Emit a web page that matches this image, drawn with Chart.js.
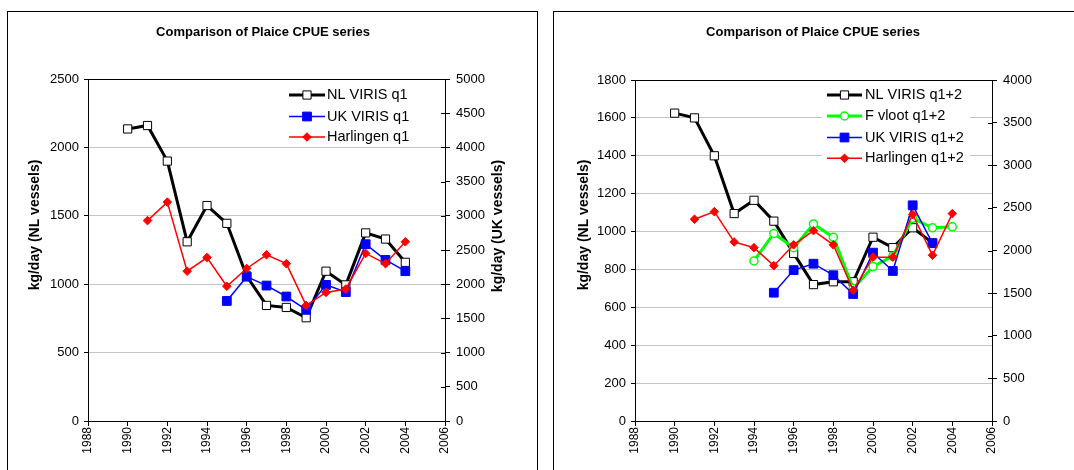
<!DOCTYPE html>
<html>
<head>
<meta charset="utf-8">
<script src="https://cdn.jsdelivr.net/npm/chart.js@4.4.0/dist/chart.umd.min.js"></script>
<style>
  html, body { margin: 0; padding: 0; background: #fff; overflow: hidden; }
  body { width: 1074px; height: 470px; position: relative; }
  .panel { position: absolute; border: 1px solid #000; background: #fff; }
  #leftPanel { left: 7px; top: 11px; width: 529px; height: 480px; }
  #rightPanel { left: 553px; top: 11px; width: 540px; height: 480px; }
  canvas { position: absolute; left: 0; top: 0; }
</style>
</head>
<body>
<div class="panel" id="leftPanel"><canvas id="q1Chart" width="528" height="459"></canvas></div>
<div class="panel" id="rightPanel"><canvas id="q12Chart" width="530" height="459"></canvas></div>
<script>
// x axis years
const yearTicks = [1988, 1990, 1992, 1994, 1996, 1998, 2000, 2002, 2004, 2006];

// quarter 1 series
const nlQ1Years = [1990, 1991, 1992, 1993, 1994, 1995, 1996, 1997, 1998, 1999, 2000, 2001, 2002, 2003, 2004];
const nlQ1 = [2135, 2160, 1900, 1310, 1575, 1445, 1060, 845, 830, 755, 1095, 995, 1375, 1330, 1160];
const ukQ1Years = [1995, 1996, 1997, 1998, 1999, 2000, 2001, 2002, 2003, 2004];
const ukQ1 = [1755, 2110, 1980, 1820, 1625, 1990, 1885, 2585, 2355, 2190];
const harQ1Years = [1991, 1992, 1993, 1994, 1995, 1996, 1997, 1998, 1999, 2000, 2001, 2002, 2003, 2004];
const harQ1 = [1465, 1600, 1095, 1195, 985, 1115, 1215, 1150, 845, 940, 965, 1225, 1150, 1310];

// quarter 1+2 series
const nlQ12Years = [1990, 1991, 1992, 1993, 1994, 1995, 1996, 1997, 1998, 1999, 2000, 2001, 2002, 2003];
const nlQ12 = [1625, 1600, 1400, 1095, 1165, 1055, 885, 720, 735, 735, 970, 915, 1020, 940];
const fvQ12Years = [1994, 1995, 1996, 1997, 1998, 1999, 2000, 2001, 2002, 2003, 2004];
const fvQ12 = [845, 990, 915, 1040, 970, 700, 815, 870, 1070, 1020, 1025];
const ukQ12Years = [1995, 1996, 1997, 1998, 1999, 2000, 2001, 2002, 2003];
const ukQ12 = [1505, 1770, 1845, 1710, 1490, 1975, 1760, 2530, 2085];
const harQ12Years = [1991, 1992, 1993, 1994, 1995, 1996, 1997, 1998, 1999, 2000, 2001, 2002, 2003, 2004];
const harQ12 = [1065, 1105, 945, 915, 820, 930, 1005, 930, 690, 865, 865, 1090, 875, 1095];

const FONT = "'Liberation Sans', Arial, sans-serif";
Chart.defaults.font.family = FONT;
Chart.defaults.color = '#000';

function points(years, values) {
    return years.map((yr, i) => ({ x: yr, y: values[i] }));
}

const styles = {
    nl: { borderColor: '#000000', borderWidth: 3, pointStyle: 'rect', pointRadius: 5.8,
          pointBackgroundColor: '#ffffff', pointBorderColor: '#000000', pointBorderWidth: 1 },
    fv: { borderColor: '#00ff00', borderWidth: 3, pointStyle: 'circle', pointRadius: 4,
          pointBackgroundColor: '#ffffff', pointBorderColor: '#00ff00', pointBorderWidth: 1.5 },
    uk: { borderColor: '#0000ff', borderWidth: 1.5, pointStyle: 'rect', pointRadius: 6.2,
          pointBackgroundColor: '#0000ff', pointBorderColor: '#0000ff', pointBorderWidth: 1 },
    har: { borderColor: '#ff0000', borderWidth: 1.5, pointStyle: 'rectRot', pointRadius: 4.3,
           pointBackgroundColor: '#ff0000', pointBorderColor: '#ff0000', pointBorderWidth: 1 }
};

function series(label, years, values, style, axis, order) {
    return Object.assign({
        label: label,
        data: points(years, values),
        yAxisID: axis,
        order: order,
        tension: 0,
        fill: false,
        pointHoverRadius: 0
    }, style);
}

// title, rotated axis titles
const panelText = {
    id: 'panelText',
    afterDraw(chart, args, opts) {
        const ctx = chart.ctx;
        ctx.save();
        ctx.fillStyle = '#000';
        ctx.textAlign = 'center';
        ctx.textBaseline = 'middle';
        ctx.font = 'bold 13px ' + FONT;
        ctx.fillText(opts.title, opts.titleX, opts.titleY);
        ctx.font = 'bold 14px ' + FONT;
        opts.axisTitles.forEach(t => {
            ctx.save();
            ctx.translate(t.x, t.y);
            ctx.rotate(-Math.PI / 2);
            ctx.fillText(t.text, 0, 0);
            ctx.restore();
        });
        ctx.restore();
    }
};

// legend drawn inside the plot area
const boxLegend = {
    id: 'boxLegend',
    afterDatasetsDraw(chart, args, opts) {
        const ctx = chart.ctx;
        ctx.save();
        if (opts.box) {
            ctx.fillStyle = '#fff';
            ctx.fillRect(opts.box[0], opts.box[1], opts.box[2], opts.box[3]);
        }
        ctx.font = '14.5px ' + FONT;
        ctx.textBaseline = 'middle';
        ctx.textAlign = 'left';
        opts.order.forEach((idx, row) => {
            const ds = chart.data.datasets[idx];
            const y = opts.rows[row];
            ctx.strokeStyle = ds.borderColor;
            ctx.lineWidth = ds.borderWidth;
            ctx.beginPath();
            ctx.moveTo(opts.lineX[0], y);
            ctx.lineTo(opts.lineX[1], y);
            ctx.stroke();
            ctx.fillStyle = ds.pointBackgroundColor;
            ctx.strokeStyle = ds.pointBorderColor;
            ctx.lineWidth = ds.pointBorderWidth;
            Chart.helpers.drawPoint(ctx, {
                pointStyle: ds.pointStyle, rotation: 0,
                radius: ds.pointRadius, borderWidth: ds.pointBorderWidth
            }, (opts.lineX[0] + opts.lineX[1]) / 2, y);
            ctx.fillStyle = '#000';
            ctx.fillText(ds.label, opts.textX, y);
        });
        ctx.restore();
    }
};

// secondary axis tick marks reach into the plot as well
const crossTicks = {
    id: 'crossTicks',
    afterDraw(chart) {
        const scale = chart.scales.y2;
        const ctx = chart.ctx;
        ctx.save();
        ctx.strokeStyle = '#000';
        ctx.lineWidth = 1;
        scale.ticks.forEach(t => {
            const py = Math.round(scale.getPixelForValue(t.value)) + 0.5;
            ctx.beginPath();
            ctx.moveTo(scale.left - 4, py);
            ctx.lineTo(scale.left, py);
            ctx.stroke();
        });
        ctx.restore();
    }
};

function buildChart(canvasId, spec) {
    return new Chart(document.getElementById(canvasId), {
        type: 'line',
        data: { datasets: spec.datasets },
        options: {
            responsive: false,
            animation: false,
            events: [],
            layout: { padding: { top: spec.plotTop, left: 0, right: 0, bottom: 0 } },
            plugins: {
                legend: { display: false },
                tooltip: { enabled: false },
                panelText: spec.text,
                boxLegend: spec.legend
            },
            scales: {
                x: {
                    type: 'linear',
                    min: 1988,
                    max: 2006,
                    afterBuildTicks: s => { s.ticks = yearTicks.map(v => ({ value: v })); },
                    ticks: {
                        autoSkip: false, minRotation: 90, maxRotation: 90, padding: 1,
                        font: { size: 12 }, color: '#000',
                        callback: v => String(v)
                    },
                    grid: { drawOnChartArea: false, color: '#000', tickLength: 5 },
                    border: { color: '#000', width: 1 },
                    afterFit: s => { s.height = spec.xHeight; }
                },
                y: {
                    position: 'left',
                    min: 0,
                    max: spec.yMax,
                    ticks: { stepSize: spec.yStep, padding: 5, font: { size: 13 }, color: '#000',
                             callback: v => String(v) },
                    grid: {
                        color: c => (c.tick && c.tick.value === spec.yMax) ? '#000' : '#c4c4c4',
                        tickColor: '#000',
                        tickLength: 4
                    },
                    border: { color: '#000', width: 1 },
                    afterFit: s => { s.width = spec.plotLeft; }
                },
                y2: {
                    position: 'right',
                    min: 0,
                    max: spec.y2Max,
                    ticks: { stepSize: 500, padding: 6, font: { size: 13 }, color: '#000',
                             callback: v => String(v) },
                    grid: { drawOnChartArea: false, color: '#000', tickLength: 5 },
                    border: { color: '#000', width: 1 },
                    afterFit: s => { s.width = spec.y2Width; }
                }
            }
        },
        plugins: [panelText, boxLegend, crossTicks]
    });
}

buildChart('q1Chart', {
    plotTop: 67, plotLeft: 80, y2Width: 91, xHeight: 50,
    yMax: 2500, yStep: 500, y2Max: 5000,
    datasets: [
        series('NL VIRIS q1', nlQ1Years, nlQ1, styles.nl, 'y', 3),
        series('UK VIRIS q1', ukQ1Years, ukQ1, styles.uk, 'y2', 2),
        series('Harlingen q1', harQ1Years, harQ1, styles.har, 'y', 1)
    ],
    text: {
        title: 'Comparison of Plaice CPUE series', titleX: 255, titleY: 20,
        axisTitles: [
            { text: 'kg/day (NL vessels)', x: 27, y: 213 },
            { text: 'kg/day (UK vessels)', x: 490, y: 214 }
        ]
    },
    legend: {
        box: [276, 70, 134, 64],
        order: [0, 1, 2],
        lineX: [281, 317],
        textX: 319,
        rows: [83, 104.5, 125]
    }
});

buildChart('q12Chart', {
    plotTop: 68, plotLeft: 81, y2Width: 92, xHeight: 50,
    yMax: 1800, yStep: 200, y2Max: 4000,
    datasets: [
        series('NL VIRIS q1+2', nlQ12Years, nlQ12, styles.nl, 'y', 4),
        series('F vloot q1+2', fvQ12Years, fvQ12, styles.fv, 'y', 3),
        series('UK VIRIS q1+2', ukQ12Years, ukQ12, styles.uk, 'y2', 2),
        series('Harlingen q1+2', harQ12Years, harQ12, styles.har, 'y', 1)
    ],
    text: {
        title: 'Comparison of Plaice CPUE series', titleX: 259, titleY: 20,
        axisTitles: [
            { text: 'kg/day (NL vessels)', x: 30, y: 213 }
        ]
    },
    legend: {
        box: [268, 72, 148, 84],
        order: [0, 1, 2, 3],
        lineX: [273, 308],
        textX: 311,
        rows: [83, 104, 125.5, 146.3]
    }
});
</script>
</body>
</html>
